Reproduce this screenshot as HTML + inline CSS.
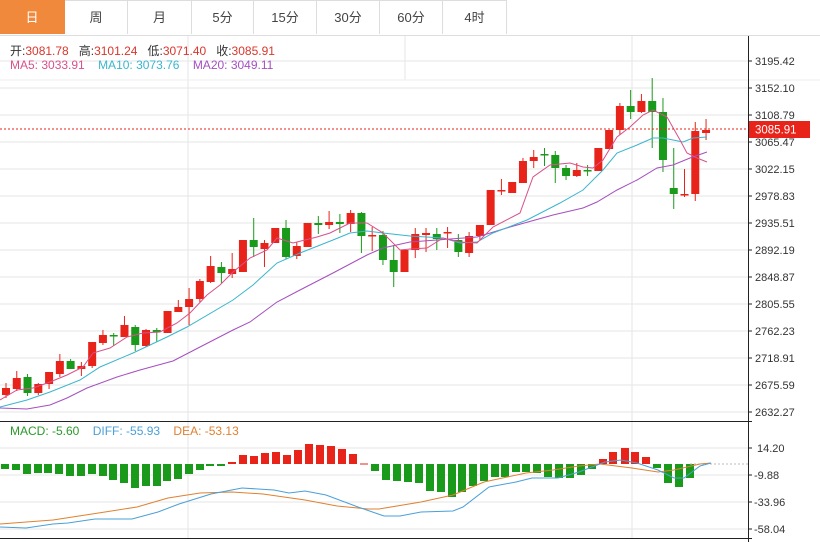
<!DOCTYPE html>
<html><head><meta charset="utf-8">
<style>
html,body{margin:0;padding:0;background:#fff;width:820px;height:542px;overflow:hidden;font-family:"Liberation Sans","Noto Sans CJK SC",sans-serif;}
.tabs{position:absolute;left:0;top:0;height:35px;width:820px;border-bottom:1px solid #ddd;}
.tab{position:absolute;top:0;height:34px;line-height:34px;text-align:center;font-size:13px;color:#444;border-right:1px solid #ddd;border-top:1px solid #ddd;box-sizing:border-box;}
.tab.on{background:#f0893c;color:#fff;border-color:#f0893c;}
.info{position:absolute;left:10px;font-size:12px;white-space:nowrap;}
</style></head><body>
<div class="tabs">
<div class="tab on" style="left:0;width:65px">日</div>
<div class="tab" style="left:65px;width:63px">周</div>
<div class="tab" style="left:128px;width:64px">月</div>
<div class="tab" style="left:192px;width:62px">5分</div>
<div class="tab" style="left:254px;width:63px">15分</div>
<div class="tab" style="left:317px;width:63px">30分</div>
<div class="tab" style="left:380px;width:63px">60分</div>
<div class="tab" style="left:443px;width:64px">4时</div>
</div>
<svg id="s" width="820" height="542" style="position:absolute;left:0;top:0" xmlns="http://www.w3.org/2000/svg"></svg>
<div class="info" style="top:42px;color:#333">开:<span style="color:#d9362b">3081.78</span>&nbsp;&nbsp; 高:<span style="color:#d9362b">3101.24</span>&nbsp;&nbsp; 低:<span style="color:#d9362b">3071.40</span>&nbsp;&nbsp; 收:<span style="color:#d9362b">3085.91</span></div>
<div class="info" style="top:58px;"><span style="color:#d9508a">MA5: 3033.91</span>&nbsp;&nbsp;&nbsp; <span style="color:#3ab5cf">MA10: 3073.76</span>&nbsp;&nbsp;&nbsp; <span style="color:#a54fc0">MA20: 3049.11</span></div>
<div class="info" style="top:424px;"><span style="color:#2a9a2a">MACD: -5.60</span>&nbsp;&nbsp;&nbsp; <span style="color:#4aa0d8">DIFF: -55.93</span>&nbsp;&nbsp;&nbsp; <span style="color:#e08030">DEA: -53.13</span></div>
<script>
var s='';
var R='#e8231a',G='#1a9a1a';
// grid
var py=[61,88,115,142,169,196,223,250,277,304,331,358,385,412];
var pl=['3195.42','3152.10','3108.79','3065.47','3022.15','2978.83','2935.51','2892.19','2848.87','2805.55','2762.23','2718.91','2675.59','2632.27'];
py.forEach(function(y){s+='<line x1="0" x2="748" y1="'+y+'" y2="'+y+'" stroke="#e6e6e6"/>';});
var my=[448,475,502,529],ml=['14.20','-9.88','-33.96','-58.04'];
my.forEach(function(y){s+='<line x1="0" x2="748" y1="'+y+'" y2="'+y+'" stroke="#e6e6e6"/>';});
s+='<line x1="188" x2="188" y1="36" y2="538" stroke="#e6e6e6"/><line x1="632" x2="632" y1="36" y2="538" stroke="#e6e6e6"/><line x1="405" x2="405" y1="36" y2="80" stroke="#e6e6e6"/>';
s+='<line x1="0" x2="820" y1="80" y2="80" stroke="#eee"/>';
// candles [type, bodyTop, bodyBot, wickTop, wickBot]
var C=[
['r',388,395,383,398],['r',378,389,371,391],['g',377,393,374,396],['r',384,393,383,395],['r',372,384,372,389],
['r',361,374,354,377],['g',361,369,359,369],['r',366,369,362,376],['r',342,366,342,368],['r',335,343,330,345],
['g',335,336,333,346],['r',325,337,316,337],['g',327,345,325,351],['r',330,346,329,347],['g',330,332,328,342],
['r',311,333,311,333],['r',307,312,300,312],['r',299,307,288,325],['r',281,299,279,302],['r',266,282,256,283],
['g',267,273,262,283],['r',269,274,253,278],['r',240,272,240,272],['g',240,247,218,257],['r',243,249,240,267],
['r',228,243,228,243],['g',228,257,220,259],['r',246,256,242,259],['r',223,247,223,247],['g',223,225,216,234],
['r',222,225,211,229],['g',222,224,214,233],['r',213,224,210,232],['g',213,236,212,253],['r',235,236,227,251],
['g',235,260,231,265],['g',260,272,245,287],['r',250,272,250,272],['r',234,250,228,258],['r',233,235,228,252],
['g',234,239,228,250],['r',232,233,227,248],['g',240,252,234,257],['r',236,253,232,257],['r',225,236,225,240],
['r',190,225,190,225],['r',190,191,179,195],['r',182,193,182,193],['r',161,183,158,183],['r',157,161,150,168],
['g',154,155,148,166],['g',155,168,151,183],['g',168,176,165,180],['r',170,176,163,177],['g',170,171,165,176],
['r',148,171,148,171],['r',130,149,130,149],['r',106,130,103,135],['g',106,112,90,119],['r',101,112,94,113],
['g',101,112,78,148],['g',112,160,98,172],['g',188,194,148,209],['r',194,195,169,197],['r',131,194,122,201],
['r',130,133,119,140]];
C.forEach(function(c,i){var x=6+10.77*i;var col=c[0]=='r'?R:G;
s+='<line x1="'+x+'" x2="'+x+'" y1="'+c[3]+'" y2="'+c[4]+'" stroke="'+col+'" stroke-width="1"/>';
var h=Math.max(1.5,c[2]-c[1]);s+='<rect x="'+(x-4)+'" y="'+c[1]+'" width="8" height="'+h+'" fill="'+col+'"/>';});
function pl2(p,col){s+='<polyline fill="none" stroke="'+col+'" stroke-width="1" points="'+p+'"/>';}
pl2('0,408 27,409 50,405 67,398 87,388 117,377 140,370 173,361 200,347 233,330 250,322 277,302 300,290 333,273 367,255 383,248 410,242 477,237 510,227 553,215 583,208 597,202 617,190 637,180 657,168 673,165 690,158 707,152','#a54fc0');
pl2('0,407 27,400 50,392 80,380 100,367 133,353 167,337 187,327 233,300 253,285 277,263 300,253 333,240 350,233 367,231 383,233 410,236 443,238 460,243 477,242 493,233 527,220 560,203 583,190 603,170 617,153 637,145 653,138 663,138 683,142 693,138 707,137','#3ab5cf');
pl2('0,400 17,390 33,388 50,382 67,375 83,367 93,353 110,348 127,337 143,333 160,332 177,323 190,313 207,295 220,285 233,272 250,258 267,250 277,238 293,243 317,237 330,233 350,223 367,223 383,233 400,250 410,249 427,248 443,238 460,242 477,243 493,227 520,213 533,177 550,165 570,163 583,167 593,168 603,160 617,137 630,127 643,115 653,110 667,117 680,140 687,153 697,158 707,162','#d9508a');
// price line
s+='<line x1="0" x2="748" y1="129" y2="129" stroke="#e8231a" stroke-dasharray="2,2"/>';
// MACD hist
var H=[469,470,474,473,473,474,476,476,474,476,480,483,488,486,486,481,479,474,470,466,466,462,455,456,453,452,455,450,444,445,446,449,454,463.5,471,480,481,482,483,491,492,497,492,486,481,477,477,472,472,473,477,478,478,475,469,459,452,448,452,457,468,483,487,478];
var HX=[5,16,27,38,48,59,70,81,92,103,113,124,135,146,157,167,178,189,200,210,221,232,243,254,265,276,287,298,309,320,331,342,353,364,375,386,397,408,419,430,441,452,462,473,484,495,505,516,526,537,548,559,570,581,592,603,613,625,635,646,657,668,679,690];
H.forEach(function(v,i){var x=HX[i];var col=v<464?R:G;var y=Math.min(v,464),h=Math.max(1,Math.abs(v-464));s+='<rect x="'+(x-4)+'" y="'+y+'" width="8" height="'+h+'" fill="'+col+'"/>';});
s+='<line x1="690" x2="748" y1="464" y2="464" stroke="#bbb" stroke-dasharray="2,2"/>';
pl2('0,524 53,520 105,512 137,507 168,498 200,493 232,492 263,494 305,500 337,506 368,509 379,509 421,502 453,495 484,482 526,473 553,470 579,466 600,464 632,468 658,472 674,470 700,464 711,463','#e08030');
pl2('0,527 26,528 53,524 68,523 95,519 132,519 158,512 179,504 211,494 242,488 274,490 289,493 305,491 326,495 358,507 384,516 400,516 421,512 453,511 463,507 489,487 516,482 532,478 558,478 579,472 605,462 621,460 637,463 658,470 674,478 684,478 700,466 711,463','#4aa0d8');
// axes
s+='<line x1="0" x2="752" y1="421.5" y2="421.5" stroke="#222"/><line x1="0" x2="752" y1="538.5" y2="538.5" stroke="#222"/><line x1="748.5" x2="748.5" y1="36" y2="542" stroke="#222"/>';
py.forEach(function(y,i){s+='<line x1="748" x2="752" y1="'+y+'" y2="'+y+'" stroke="#222"/><text x="755" y="'+(y+4)+'" font-size="11" fill="#333" font-family="Liberation Sans">'+pl[i]+'</text>';});
my.forEach(function(y,i){s+='<line x1="748" x2="752" y1="'+y+'" y2="'+y+'" stroke="#222"/><text x="'+(ml[i][0]=='-'?754:757)+'" y="'+(y+4)+'" font-size="11" fill="#333" font-family="Liberation Sans">'+ml[i]+'</text>';});
s+='<rect x="749" y="121" width="61" height="17" fill="#e8231a"/><text x="755" y="133.5" font-size="11.5" fill="#fff" font-family="Liberation Sans">3085.91</text>';
document.getElementById('s').innerHTML=s;
</script>
</body></html>
